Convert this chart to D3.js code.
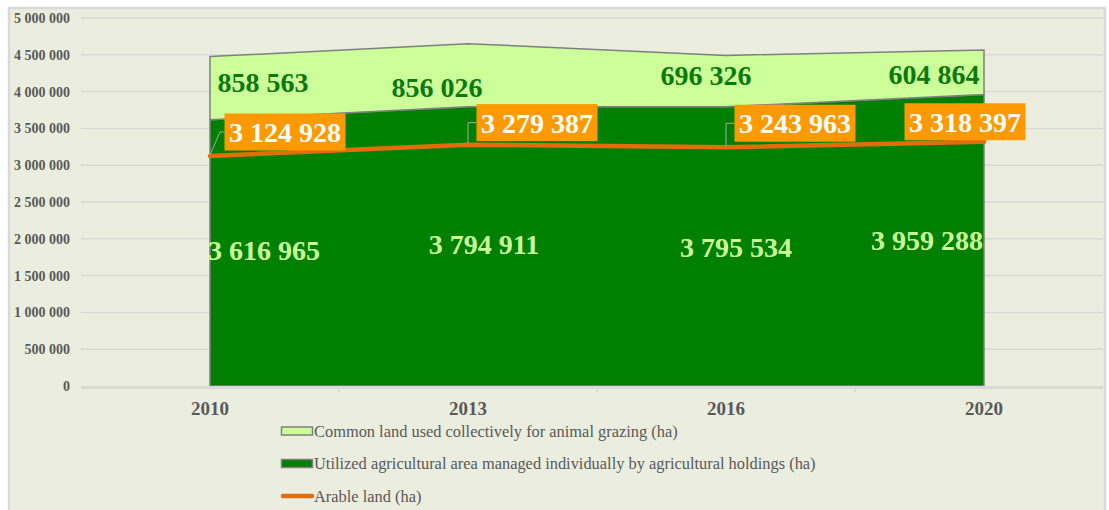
<!DOCTYPE html>
<html>
<head>
<meta charset="utf-8">
<script src="https://cdn.jsdelivr.net/npm/d3@7"></script>
<style>
  body { margin: 0; background: #fff; }
  svg { display: block; font-family: "Liberation Serif", "Times New Roman", serif; }
</style>
</head>
<body>
<svg id="chart" width="1109" height="510"></svg>
<script>
var years = ["2010", "2013", "2016", "2020"];
var commonLand = [858563, 856026, 696326, 604864];
var utilizedArea = [3616965, 3794911, 3795534, 3959288];
var arableLand = [3124928, 3279387, 3243963, 3318397];
var yTicks = [0, 500000, 1000000, 1500000, 2000000, 2500000, 3000000, 3500000, 4000000, 4500000, 5000000];
var legendLabels = [
  "Common land used collectively for animal grazing (ha)",
  "Utilized agricultural area managed individually by agricultural holdings (ha)",
  "Arable land (ha)"
];

// label placement tweaks (px), to follow the original layout
var commonOffset = [[53, 4], [-31, 22], [-20, 4], [-50, 12]];
var utilOffset = [[54, 0], [16, 0], [10, 0], [-57, 0]];
var utilBase = [260, 254, 257, 250];
var boxOffset = [[75, -24], [69, -22], [69, -24], [-19, -20]];

var fmt = function(v) { return d3.format(",")(v).replace(/,/g, " "); };

var svg = d3.select("#chart");
var plotLeft = 81, plotRight = 1113, plotTop = 18, plotBottom = 386, gridEnd = 1103;

svg.append("rect").attr("x", 0).attr("y", 0).attr("width", 1109).attr("height", 510).attr("fill", "#fff");
svg.append("rect")
  .attr("x", 9).attr("y", 8).attr("width", 1096).attr("height", 506)
  .attr("fill", "#ebeedf").attr("stroke", "#d9d9d9").attr("stroke-width", 2.5);

var x = d3.scalePoint().domain(years).range([plotLeft, plotRight]).padding(0.5);
var y = d3.scaleLinear().domain([0, 5000000]).range([plotBottom, plotTop]);

// grid
svg.append("g").selectAll("line")
  .data(yTicks.slice(1))
  .enter().append("line")
  .attr("x1", plotLeft).attr("x2", gridEnd)
  .attr("y1", function(d) { return y(d); })
  .attr("y2", function(d) { return y(d); })
  .attr("stroke", "#d9d9d9").attr("stroke-width", 1.5);

// y axis labels
svg.append("g").selectAll("text")
  .data(yTicks)
  .enter().append("text")
  .attr("x", 70)
  .attr("y", function(d) { return y(d) + 5; })
  .attr("text-anchor", "end")
  .attr("font-size", 14).attr("font-weight", "bold").attr("fill", "#595959")
  .text(fmt);

var rows = years.map(function(yr, i) {
  return {year: yr, util: utilizedArea[i], common: commonLand[i], arable: arableLand[i]};
});

var areaTop = d3.area()
  .x(function(d) { return x(d.year); })
  .y0(function(d) { return y(d.util); })
  .y1(function(d) { return y(d.util + d.common); });
var areaBottom = d3.area()
  .x(function(d) { return x(d.year); })
  .y0(y(0))
  .y1(function(d) { return y(d.util); });

svg.append("path").datum(rows).attr("d", areaBottom)
  .attr("fill", "#008000").attr("stroke", "#7f7f7f").attr("stroke-width", 1.5);
svg.append("path").datum(rows).attr("d", areaTop)
  .attr("fill", "#ccff99").attr("stroke", "#7f7f7f").attr("stroke-width", 1.5);

// x axis
svg.append("line")
  .attr("x1", plotLeft).attr("x2", gridEnd).attr("y1", plotBottom + 1.5).attr("y2", plotBottom + 1.5)
  .attr("stroke", "#d9d9d9").attr("stroke-width", 3);
svg.append("g").selectAll("line")
  .data(years.slice(1))
  .enter().append("line")
  .attr("x1", function(d) { return x(d) - x.step() / 2; })
  .attr("x2", function(d) { return x(d) - x.step() / 2; })
  .attr("y1", plotBottom + 1).attr("y2", plotBottom + 6)
  .attr("stroke", "#d9d9d9").attr("stroke-width", 2);
svg.append("g").selectAll("text")
  .data(years)
  .enter().append("text")
  .attr("x", function(d) { return x(d); })
  .attr("y", 415)
  .attr("text-anchor", "middle")
  .attr("font-size", 19).attr("font-weight", "bold").attr("fill", "#595959")
  .text(function(d) { return d; });

// arable line
var line = d3.line()
  .x(function(d) { return x(d.year); })
  .y(function(d) { return y(d.arable); });
svg.append("path").datum(rows).attr("d", line)
  .attr("fill", "none").attr("stroke", "#e46c0a").attr("stroke-width", 4.5)
  .attr("stroke-linecap", "round");

// common land labels
svg.append("g").selectAll("text")
  .data(rows)
  .enter().append("text")
  .attr("x", function(d, i) { return x(d.year) + commonOffset[i][0]; })
  .attr("y", function(d, i) {
    return (y(d.util) + y(d.util + d.common)) / 2 + commonOffset[i][1];
  })
  .attr("text-anchor", "middle")
  .attr("font-size", 28).attr("font-weight", "bold").attr("fill", "#0b7a0b")
  .text(function(d) { return fmt(d.common); });

// utilized area labels
svg.append("g").selectAll("text")
  .data(rows)
  .enter().append("text")
  .attr("x", function(d, i) { return x(d.year) + utilOffset[i][0]; })
  .attr("y", function(d, i) { return utilBase[i]; })
  .attr("text-anchor", "middle")
  .attr("font-size", 28).attr("font-weight", "bold").attr("fill", "#ccff99")
  .text(function(d) { return fmt(d.util); });

// arable labels with leader lines
var boxW = 121, boxH = 37;
var lab = svg.append("g").selectAll("g")
  .data(rows)
  .enter().append("g")
  .attr("transform", function(d, i) {
    return "translate(" + (x(d.year) + boxOffset[i][0]) + "," + (y(d.arable) + boxOffset[i][1]) + ")";
  });

lab.filter(function(d, i) { return i < 3; }).append("path")
  .attr("d", function(d, i) {
    var dx = boxOffset[i][0], dy = boxOffset[i][1];
    var bx = -boxW / 2;
    var px = -dx, py = -dy - 1;
    var kx = i === 0 ? px + 10 : px;
    return "M" + px + "," + py + "L" + kx + ",0L" + bx + ",0";
  })
  .attr("fill", "none").attr("stroke", "#a6a6a6").attr("stroke-width", 1);

lab.append("rect")
  .attr("x", -boxW / 2).attr("y", -boxH / 2)
  .attr("width", boxW).attr("height", boxH)
  .attr("fill", "#ff9900");
lab.append("text")
  .attr("x", 0).attr("y", 10)
  .attr("text-anchor", "middle")
  .attr("font-size", 28).attr("font-weight", "bold").attr("fill", "#fff")
  .text(function(d) { return fmt(d.arable); });

// legend
var legend = svg.append("g").selectAll("g")
  .data(legendLabels)
  .enter().append("g")
  .attr("transform", function(d, i) { return "translate(281," + (431 + i * 32.5) + ")"; });

legend.filter(function(d, i) { return i < 2; }).append("rect")
  .attr("x", 0.5).attr("y", -4).attr("width", 31).attr("height", 8)
  .attr("fill", function(d, i) { return i === 0 ? "#ccff99" : "#008000"; })
  .attr("stroke", "#7f7f7f").attr("stroke-width", 1.5);
legend.filter(function(d, i) { return i === 2; }).append("line")
  .attr("x1", 2).attr("x2", 31).attr("y1", 0).attr("y2", 0)
  .attr("stroke", "#e46c0a").attr("stroke-width", 4.5).attr("stroke-linecap", "round");
legend.append("text")
  .attr("x", 33).attr("y", 5.5)
  .attr("font-size", 16.4).attr("fill", "#595959")
  .text(function(d) { return d; });
</script>
</body>
</html>
